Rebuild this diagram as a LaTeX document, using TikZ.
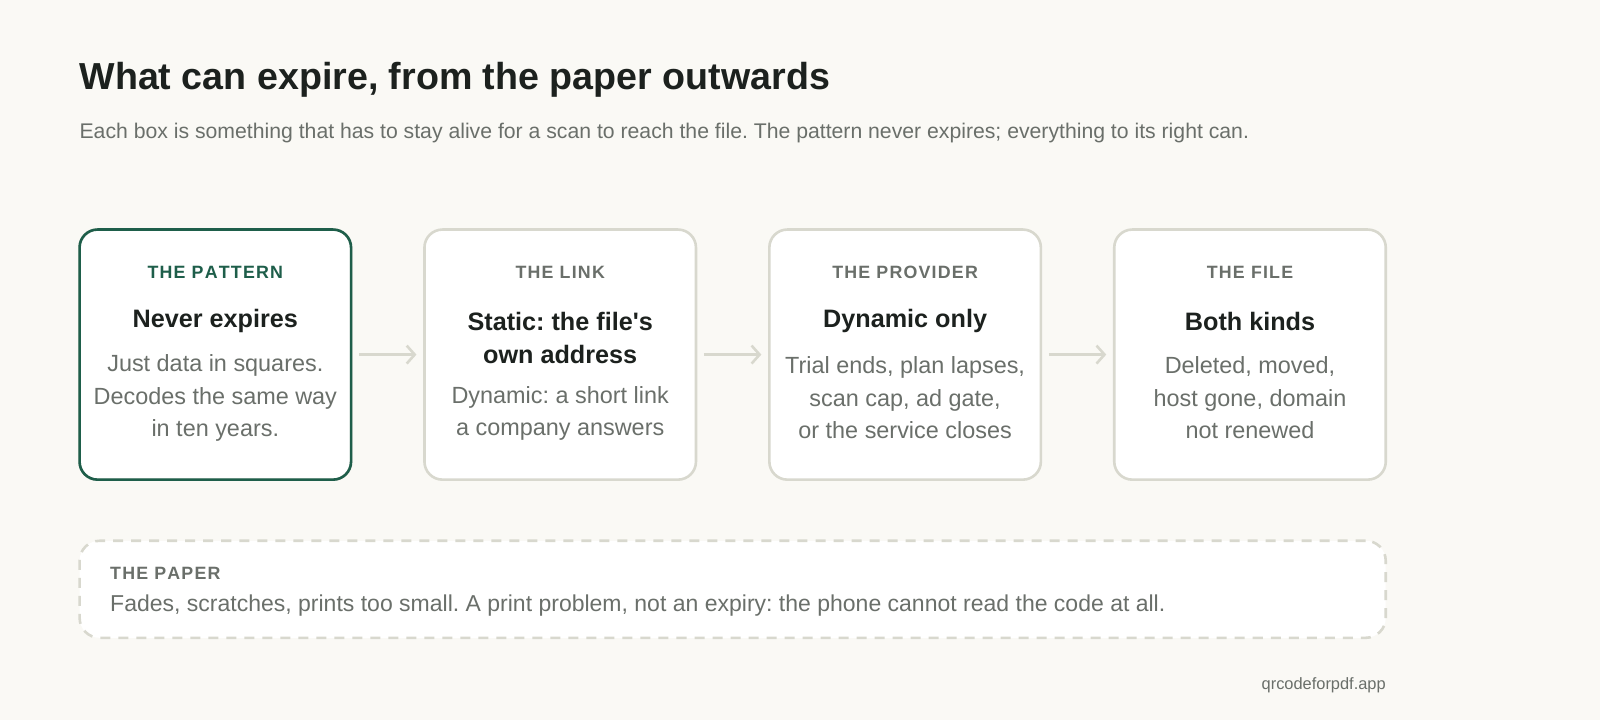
\documentclass[tikz,border=0pt]{standalone}
\usepackage{fontspec}
\setmainfont{Liberation Sans}
\usetikzlibrary{arrows.meta}
\definecolor{bg}{HTML}{FAF9F5}
\definecolor{ink}{HTML}{1C211E}
\definecolor{mute}{HTML}{6A6F6A}
\definecolor{edge}{HTML}{D8D8CE}
\definecolor{pine}{HTML}{1E5E4A}
\frenchspacing

\begin{document}
\begin{tikzpicture}
[x=0.51pt, y=-0.51pt,
every node/.style={inner sep=0 pt, outer sep=0 pt},
card/.style={draw=edge, line width=1.3pt, fill=white, rounded corners=9pt,
  minimum width=135.7pt, minimum height=125pt},
tag/.style={font=\bfseries\fontsize{8.9}{9}\selectfont, text=mute},
head/.style={font=\bfseries\fontsize{12.6}{16.3}\selectfont, text=ink, align=center},
body/.style={font=\fontsize{11.7}{16.2}\selectfont, text=mute, align=center},
flow/.style={-{Straight Barb[length=4pt, width=9pt]}, draw=edge, line width=1.3pt,
  shorten <=4pt, shorten >=4pt}
]

% page and margins
\fill[bg] (0,0) rectangle (1568,706);
\useasboundingbox (0,0) rectangle (1568,706);

% title
\node[anchor=base west, font=\bfseries\fontsize{18.8}{20}\selectfont, text=ink] (title)
  at (78,88) {What can expire, from the paper outwards};
\node[anchor=base west, font=\fontsize{10.6}{12}\selectfont, text=mute] (sub)
  at (78,136) {Each box is something that has to stay alive for a scan to reach the file. The pattern never expires; everything to its right can.};

% cards
\foreach \n/\x in {1/211,2/549,3/887,4/1225}
{\node[card] (card\n) at (\x,347.5) {};}
\draw[pine, line width=1.3pt, rounded corners=9pt] (card1.south west) rectangle (card1.north east);

% card texts
\node[tag, text=pine] (tag1) at (211,267) {T\kern0.6pt H\kern0.6pt E\kern0.6pt\ P\kern0.6pt A\kern0.6pt T\kern0.6pt T\kern0.6pt E\kern0.6pt R\kern0.6pt N};
\node[tag] (tag2) at (549,267) {T\kern0.6pt H\kern0.6pt E\kern0.6pt\ L\kern0.6pt I\kern0.6pt N\kern0.6pt K};
\node[tag] (tag3) at (887,267) {T\kern0.6pt H\kern0.6pt E\kern0.6pt\ P\kern0.6pt R\kern0.6pt O\kern0.6pt V\kern0.6pt I\kern0.6pt D\kern0.6pt E\kern0.6pt R};
\node[tag] (tag4) at (1225,267) {T\kern0.6pt H\kern0.6pt E\kern0.6pt\ F\kern0.6pt I\kern0.6pt L\kern0.6pt E};

\node[head] (head1) at (211,315) {Never expires};
\node[head] (head2) at (549,331) {Static: the file\textquotesingle s\\own address};
\node[head] (head3) at (887,315) {Dynamic only};
\node[head] (head4) at (1225,315) {Both kinds};

\node[body] (body1) at (211,390) {Just data in squares.\\Decodes the same way\\in ten years.};
\node[body] (body2) at (549,405) {Dynamic: a short link\\a company answers};
\node[body] (body3) at (887,390) {Trial ends, plan lapses,\\scan cap, ad gate,\\or the service closes};
\node[body] (body4) at (1225,390) {Deleted, moved,\\host gone, domain\\not renewed};

% arrows
\foreach \a/\b in {1/2,2/3,3/4}
{\draw[flow] (card\a) -- (card\b);}

% paper strip
\node[draw=edge, line width=1.3pt, dash pattern=on 5pt off 4pt, fill=white,
  rounded corners=10pt, minimum width=652.8pt, minimum height=48.5pt] (paper) at (718,577.5) {};
\node[tag, anchor=base west] (tag5) at (108,568) {T\kern0.6pt H\kern0.6pt E\kern0.6pt\ P\kern0.6pt A\kern0.6pt P\kern0.6pt E\kern0.6pt R};
\node[body, anchor=base west, font=\fontsize{11.5}{14}\selectfont] (body5) at (108,599) {Fades, scratches, prints too small. A print problem, not an expiry: the phone cannot read the code at all.};

% footer
\node[anchor=base east, font=\fontsize{8.2}{9}\selectfont, text=mute] (site) at (1358,676) {qrcodeforpdf.app};
\end{tikzpicture}
\end{document}
